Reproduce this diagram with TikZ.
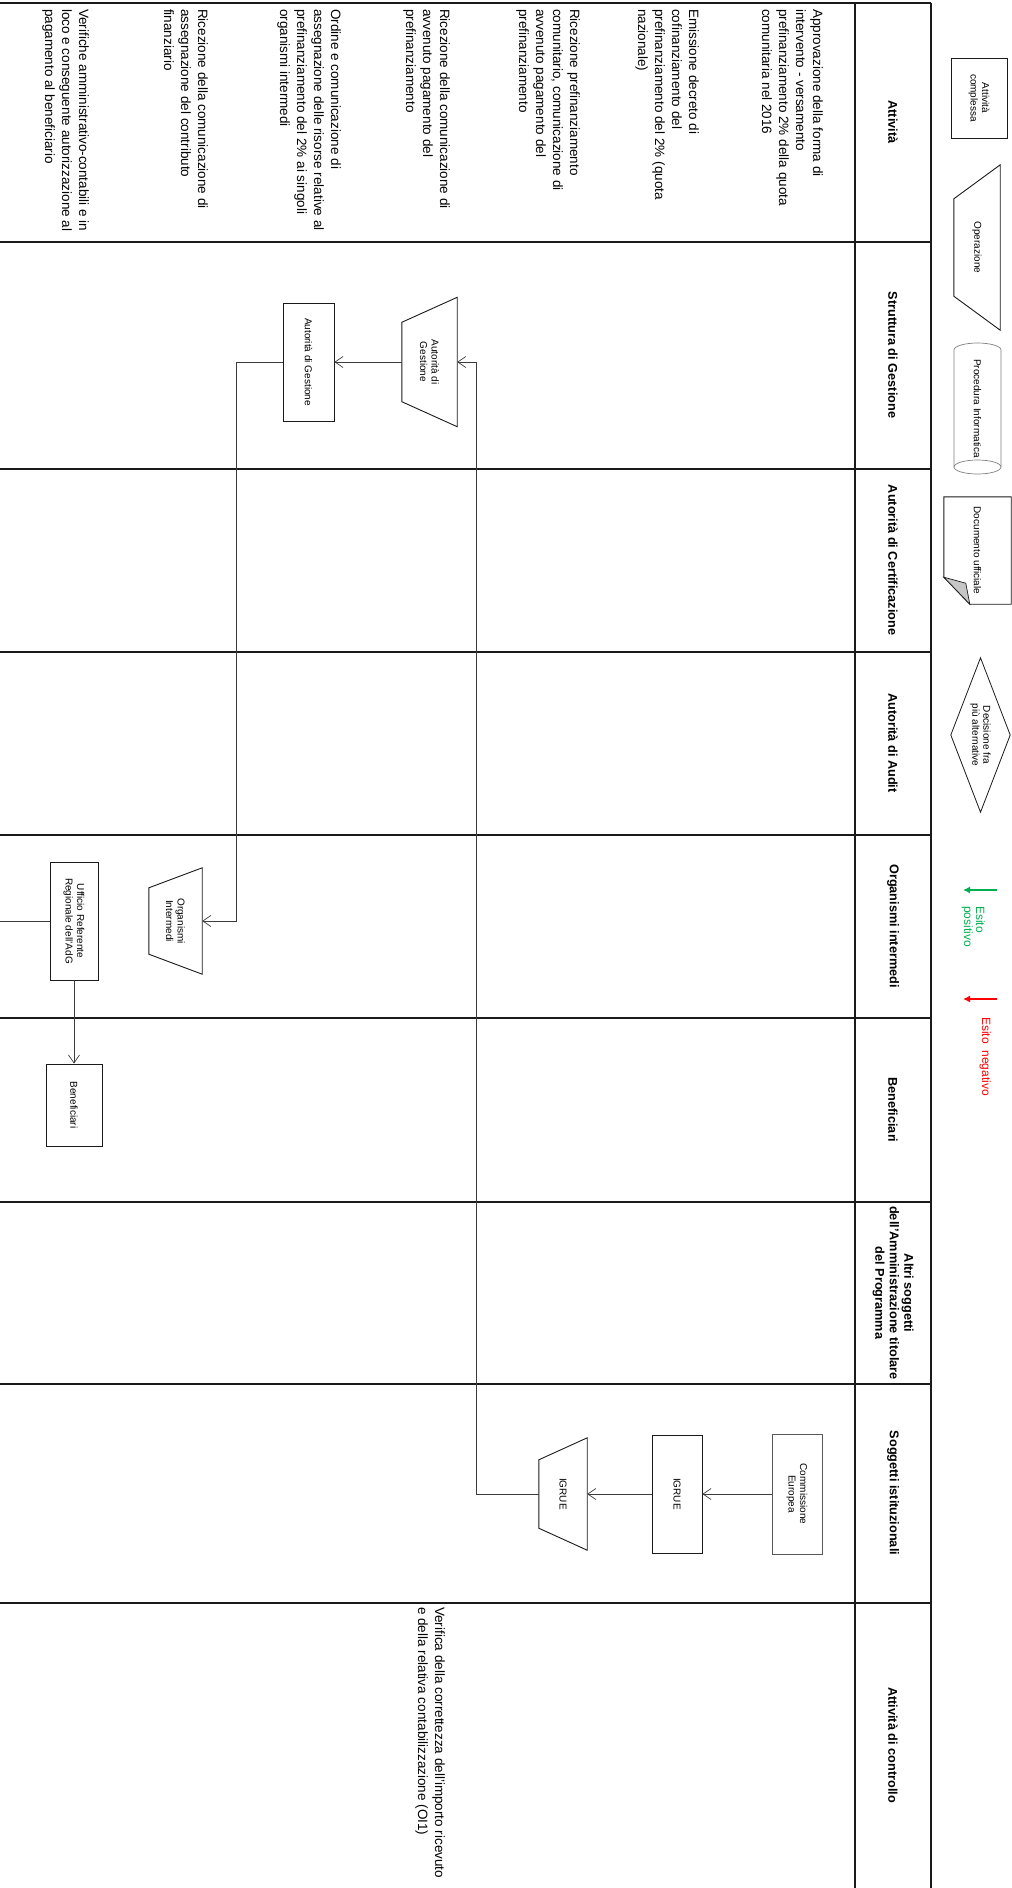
\documentclass[tikz,border=0pt]{standalone}
\usepackage{fontspec}
\setmainfont{Liberation Sans}
\usepackage{xcolor}
\usepackage{tikz}
\usetikzlibrary{arrows.meta,calc}
\definecolor{ink}{HTML}{1A1A1A}
\definecolor{wire}{HTML}{3C3C3C}
\definecolor{okgreen}{HTML}{00B050}
\definecolor{kored}{HTML}{FF0000}
\newcommand{\opshape}[2]{%
  \draw[opline] (#1.north west) -- (#1.north east)
    -- ($(#1.south east)!#2!(#1.south west)$)
    -- ($(#1.south west)!#2!(#1.south east)$) -- cycle;}

\begin{document}
\begin{tikzpicture}[x=1pt,y=-1pt,every node/.style={inner sep=0pt},
  lane/.style={draw=ink,line width=1.8pt},
  lanehead/.style={rotate=-90,align=center,font=\bfseries\fontsize{12.7}{14.5}\selectfont},
  stepnote/.style={rotate=-90,anchor=north west,align=left,font=\fontsize{13.5}{17}\selectfont},
  taskbox/.style={draw=ink,line width=0.9pt,rotate=-90,align=center,font=\fontsize{10}{11.5}\selectfont},
  opbox/.style={rotate=-90,align=center,font=\fontsize{10}{11.5}\selectfont},
  opline/.style={draw=ink,line width=0.9pt},
  flow/.style={draw=wire,line width=0.7pt,-{Straight Barb[length=8pt,width=11pt]}},
  legendnote/.style={rotate=-90,anchor=north west,align=left,font=\fontsize{12}{12}\selectfont}]
  \useasboundingbox (0,0) rectangle (1012,1888);
  % lanes
  \foreach \y in {3,242,469,652,835,1018,1202,1384,1603}
    \draw[lane] (0,\y) -- (931,\y);
  \draw[ink,line width=1.4pt] (855,3) -- (855,1888);
  \draw[ink,line width=1.4pt] (931,3) -- (931,1888);
  \node[lanehead] (hatt) at (893,122) {Attività};
  \node[lanehead] (hsg) at (893,355) {Struttura di Gestione};
  \node[lanehead] (hac) at (893,560) {Autorità di Certificazione};
  \node[lanehead] (hau) at (893,743) {Autorità di Audit};
  \node[lanehead] (hoi) at (893,926) {Organismi intermedi};
  \node[lanehead] (hbe) at (893,1110) {Beneficiari};
  \node[lanehead] (hal) at (893,1293) {Altri soggetti\\dell'Amministrazione titolare\\del Programma};
  \node[lanehead] (hsi) at (893,1493) {Soggetti istituzionali};
  \node[lanehead] (hco) at (893,1745) {Attività di controllo};
  % activities
  \node[stepnote] (t1) at (823,9) {Approvazione della forma di\\intervento - versamento\\prefinanziamento 2\% della quota\\comunitaria nel 2016};
  \node[stepnote] (t2) at (699,9) {Emissione decreto di\\cofinanziamento del\\prefinanziamento del 2\% (quota\\nazionale)};
  \node[stepnote] (t3) at (580,9) {Ricezione prefinanziamento\\comunitario, comunicazione di\\avvenuto pagamento del\\prefinanziamento};
  \node[stepnote] (t4) at (450,9) {Ricezione della comunicazione di\\avvenuto pagamento del\\prefinanziamento};
  \node[stepnote] (t5) at (341,9) {Ordine e comunicazione di\\assegnazione delle risorse relative al\\prefinanziamento del 2\% ai singoli\\organismi intermedi};
  \node[stepnote] (t6) at (208,9) {Ricezione della comunicazione di\\assegnazione del contributo\\finanziario};
  \node[stepnote] (t7) at (89,9) {Verifiche amministrativo-contabili e in\\loco e conseguente autorizzazione al\\pagamento al beneficiario};
  \node[stepnote] (t8) at (445,1607) {Verifica della correttezza dell'importo ricevuto\\e della relativa contabilizzazione (OI1)};
  % flow
  \node[taskbox,draw=gray!70!black,minimum width=120,minimum height=50] (ce) at (797,1494) {Commissione\\Europea};
  \node[taskbox,minimum width=118,minimum height=50] (ig1) at (677,1494) {IGRUE};
  \node[opbox,minimum width=112,minimum height=48] (ig2) at (563,1494) {IGRUE};
  \opshape{ig2}{22pt}
  \node[opbox,minimum width=129,minimum height=55] (ag1) at (429.5,362) {Autorità di\\Gestione};
  \opshape{ag1}{25pt}
  \node[taskbox,minimum width=118,minimum height=51] (ag2) at (308.5,362) {Autorità di Gestione};
  \node[opbox,minimum width=106,minimum height=53] (oi) at (175.5,921) {Organismi\\Intermedi};
  \opshape{oi}{20pt}
  \node[taskbox,minimum width=118,minimum height=48] (uf) at (74,921) {Ufficio Referente\\Regionale dell'AdG};
  \coordinate (uf0) at (0,921);
  \node[taskbox,minimum width=82,minimum height=56] (bn) at (74,1105) {Beneficiari};
  \draw[flow] (ce.south) -- (ig1.north);
  \draw[flow] (ig1.south) -- (ig2.north);
  \draw[flow] (ig2.south) -- ++(-62,0) |- (ag1.north);
  \draw[flow] (ag1.south) -- (ag2.north);
  \draw[flow] (ag2.south) -- ++(-46,0) |- (oi.north);
  \draw[wire,line width=0.7pt] (uf.south) -- (uf0);
  \draw[flow] (uf.east) -- (bn.west);
  % legend
  \node[taskbox,minimum width=80,minimum height=56] (lg1) at (979,98) {Attività\\complessa};
  \node[opbox,minimum width=165,minimum height=46] (lg2) at (977,247.5) {Operazione};
  \opshape{lg2}{34pt}
  \node[opbox] (lg3) at (977.5,408.5) {Procedura Informatica};
  \draw[gray,line width=0.7pt] (954,350) arc[start angle=180,end angle=360,x radius=23.5,y radius=7]
    -- (1001,467) arc[start angle=0,end angle=180,x radius=23.5,y radius=7] -- cycle;
  \draw[gray,line width=0.7pt] (1001,467) arc[start angle=0,end angle=-180,x radius=23.5,y radius=7];
  \node[opbox,minimum width=107,minimum height=67] (lg4) at (977.5,550.5) {Documento ufficiale};
  \draw[opline] (lg4.south west) -- (lg4.north west) -- (lg4.north east)
    -- ($(lg4.south east)+(26,0)$) -- ($(lg4.south east)+(0,-27)$) -- cycle;
  \filldraw[fill=gray!45,draw=ink,line width=0.7pt] ($(lg4.south east)+(0,-27)$)
    -- ($(lg4.south east)+(22,-21)$) -- ($(lg4.south east)+(26,0)$) -- cycle;
  \node[opbox,minimum width=154,minimum height=59,font=\fontsize{10}{11}\selectfont] (lg5) at (980.5,735) {Decisione fra\\più alternative};
  \draw[ink,line width=0.8pt] (lg5.north) -- (lg5.east) -- (lg5.south) -- (lg5.west) -- cycle;
  \coordinate (gp1) at (997,890);
  \coordinate (gp2) at (963,890);
  \draw[okgreen,line width=2pt,-{Latex[length=7pt,width=7pt]}] (gp1) -- (gp2);
  \node[legendnote,text=okgreen] (lg6) at (985,906) {Esito\\positivo};
  \coordinate (rn1) at (997,999);
  \coordinate (rn2) at (963,999);
  \draw[kored,line width=2pt,-{Latex[length=7pt,width=7pt]}] (rn1) -- (rn2);
  \node[legendnote,text=kored] (lg7) at (991,1017) {Esito\ \ negativo};
\end{tikzpicture}
\end{document}
